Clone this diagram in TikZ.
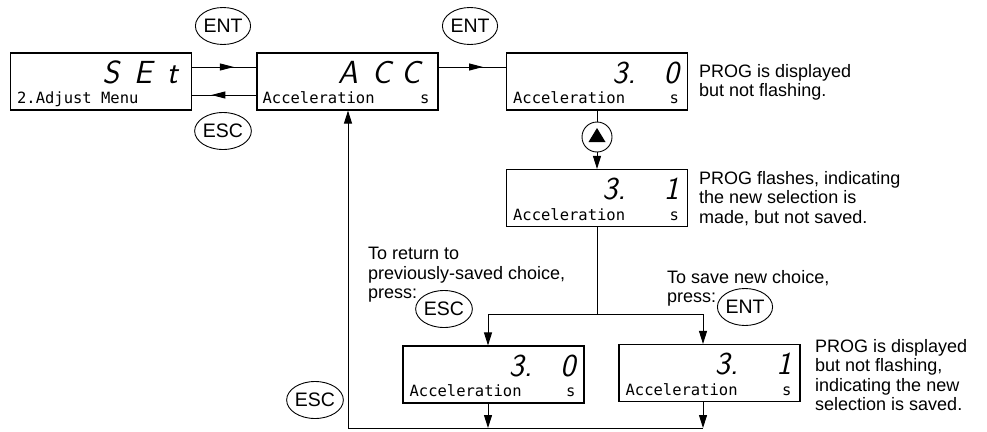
\documentclass[tikz,border=0pt]{standalone}
\usepackage{fontspec}
\setmainfont{Liberation Sans}
\newfontfamily\lcdfont{DejaVu Sans Mono}
\usetikzlibrary{shapes.geometric,arrows.meta,decorations.markings}
\newcommand{\notefont}{\fontsize{18}{19.5}\selectfont}
\newcommand{\keyfont}{\fontsize{19.5}{19.5}\selectfont}
\newcommand{\digitfont}{\sffamily\itshape\fontsize{32}{32}\selectfont}
\newcommand{\lcdsmall}{\lcdfont\fontsize{15.5}{15.5}\selectfont}
\begin{document}
\begin{tikzpicture}[x=1pt,y=-1pt,every node/.style={inner sep=0pt},
  display/.style={draw,line width=1.1pt,minimum width=181pt,minimum height=57pt},
  keycap/.style={draw,ellipse,line width=0.9pt,minimum width=44pt,minimum height=37pt,font=\keyfont},
  upcap/.style={draw,circle,line width=0.9pt,minimum size=30pt},
  digits/.style={font=\digitfont,anchor=base east},
  caption/.style={font=\lcdsmall,anchor=base west},
  unit/.style={font=\lcdsmall,anchor=base east},
  note/.style={font=\notefont,align=left,anchor=north west},
  flow/.style={line width=1pt},
  tip/.style={-{Triangle[length=13pt,width=8pt]}},
  midarrow/.style={postaction={decorate},decoration={markings,
    mark=at position #1 with {\arrow{Triangle[length=14pt,width=7pt]}}}}]
\useasboundingbox (0,0) rectangle (987,431);
% displays
\node[display] (set) at (101,81.5) {};
\node[display] (acc) at (347.5,81.5) {};
\node[display] (val) at (597,81.5) {};
\node[display] (edit) at (597,198) {};
\node[display] (undo) at (493.5,374.5) {};
\node[display] (save) at (709.5,373) {};
\node[digits] at ([shift={(-14,31)}]set.north east) {S\hspace{15pt}E\hspace{15pt}t};
\node[caption] at ([shift={(7,-7)}]set.south west) {2.Adjust Menu};
\node[digits] at ([shift={(-18,31)}]acc.north east) {A\hspace{14pt}C\hspace{10pt}C};
\node[caption] at ([shift={(6,-7)}]acc.south west) {Acceleration};
\node[unit] at ([shift={(-9,-7)}]acc.south east) {s};
\foreach \d/\t in {val/{3.\hspace{28pt}0},edit/{3.\hspace{38pt}1},undo/{3.\hspace{28pt}0},save/{3.\hspace{38pt}1}}{
  \node[digits] at ([shift={(-9,31)}]\d.north east) {\t};
  \node[caption] at ([shift={(7,-7)}]\d.south west) {Acceleration};
  \node[unit] at ([shift={(-9,-7)}]\d.south east) {s};
}
% keys
\node[keycap] (ent1) at (223,26) {ENT};
\node[keycap] (esc1) at (223,131) {ESC};
\node[keycap] (ent2) at (470,26) {ENT};
\node[upcap] (up) at (597,137) {};
\fill ([shift={(-8.5,5)}]up.center) -- ([shift={(8.5,5)}]up.center) -- ([shift={(0,-9)}]up.center) -- cycle;
\node[keycap] (esc2) at (444,309) {ESC};
\node[keycap] (ent3) at (745,307) {ENT};
\node[keycap] (esc3) at (315,400) {ESC};
% notes
\node[note] (n1) at (699,64) {PROG is displayed\\but not flashing.};
\node[note] (n2) at (699,171) {PROG flashes, indicating\\the new selection is\\made, but not saved.};
\node[note] (n3) at (368,247) {To return to\\previously-saved choice,\\press:};
\node[note] (n4) at (667,270) {To save new choice,\\press:};
\node[note] (n5) at (815,339) {PROG is displayed\\but not flashing,\\indicating the new\\selection is saved.};
% connectors
\draw[flow,midarrow=0.65] ([yshift=14.5pt]set.east) -- ([yshift=14.5pt]acc.west);
\draw[flow,midarrow=0.7] ([yshift=-13.5pt]acc.west) -- ([yshift=-13.5pt]set.east);
\draw[flow,midarrow=0.66] ([yshift=14.5pt]acc.east) -- ([yshift=14.5pt]val.west);
\draw[flow] (val.south) -- (up.north);
\draw[flow,tip] (up.south) -- (edit.north);
\coordinate (split) at (597,314);
\coordinate (left) at (488,314);
\coordinate (right) at (703,314);
\coordinate (back) at (348,428);
\draw[flow] (edit.south) -- (split);
\draw[flow,tip] (split) -- (left) -- (left |- undo.north);
\draw[flow,tip] (split) -- (right) -- (right |- save.north);
\draw[flow,tip] (left |- undo.south) -- (left |- back);
\draw[flow,tip] (right |- save.south) -- (right |- back);
\draw[flow,tip] (right |- back) -- (back) -- (back |- acc.south);
\end{tikzpicture}
\end{document}
